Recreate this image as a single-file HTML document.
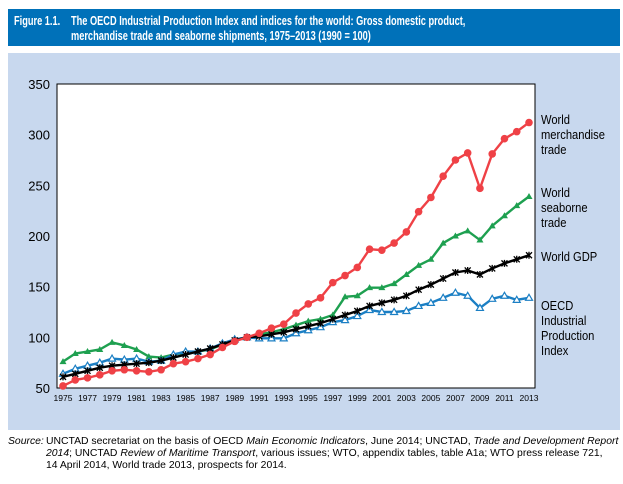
<!DOCTYPE html>
<html><head><meta charset="utf-8">
<style>
body{margin:0;width:623px;height:484px;background:#fff;font-family:"Liberation Sans",sans-serif;overflow:hidden;position:relative}
#hdr{position:absolute;left:8px;top:9px;width:612px;height:37px;background:#0071b9;color:#fff;font-weight:bold;font-size:13px;line-height:15px}
#hdr span{position:absolute;white-space:nowrap;transform-origin:0 0;transform:scaleX(0.71)}
#panel{position:absolute;left:8px;top:53px;width:612px;height:377px;background:#c8d8ee}
#src{position:absolute;left:8px;top:436px;width:612px;font-size:10.4px;line-height:12px;color:#000}
#src .l{position:absolute;left:0;top:0;font-style:italic}
#src .b{position:absolute;left:38px;top:0;width:600px;white-space:nowrap;letter-spacing:0}
</style></head><body>
<div id="hdr"><span style="left:6px;top:4px">Figure 1.1.</span><span style="left:63px;top:4px">The OECD Industrial Production Index and indices for the world: Gross domestic product,</span><span style="left:63px;top:19px">merchandise trade and seaborne shipments, 1975–2013 (1990 = 100)</span></div>
<div id="panel"></div>
<svg id="chart" width="623" height="484" style="position:absolute;left:0;top:0"></svg>
<div id="src"><span class="l">Source:</span><span class="b">UNCTAD secretariat on the basis of OECD <i>Main Economic Indicators</i>, June 2014; UNCTAD, <i>Trade and Development Report</i><br><i>2014</i>; UNCTAD <i>Review of Maritime Transport</i>, various issues; WTO, appendix tables, table A1a; WTO press release 721,<br>14 April 2014, World trade 2013, prospects for 2014.</span></div>
<script>
const years=[];for(let y=1975;y<=2013;y++)years.push(y);
const merchandise=[52,58,60,63,67,68,67,66,68,74,76,79,83,90,96,100,104,109,113,124,133,139,154,161,169,187,186,193,204,224,238,259,275,282,247,281,296,303,312];
const seaborne=[76,84,86,88,95,92,88,81,80,83,85,86,88,93,97,100,103,105,108,112,116,118,122,140,141,149,149,153,162,171,177,193,200,205,196,210,220,230,239];
const gdp=[61,64,67,70,72,73,74,75,77,80,83,86,89,93,97,100,101,103,105,108,111,114,118,122,126,131,134,137,141,147,152,158,164,166,162,168,173,177,181];
const oecd=[64,69,72,75,79,78,79,76,77,83,86,86,89,94,98,100,99,99,99,104,107,110,115,117,121,127,125,125,126,131,134,139,144,141,129,138,141,137,139];
const yTicks=[50,100,150,200,250,300,350];
const xTickYears=years.filter(y=>y%2===1);
const L=57,R=535,T=84,B=388;
const xs=y=>63+(y-1975)*(529-63)/38;
const ys=v=>B-(v-50)*(B-T)/300;
const svg=document.getElementById('chart');
const NS='http://www.w3.org/2000/svg';
function mk(tag,attrs,parent){const e=document.createElementNS(NS,tag);for(const k in attrs)e.setAttribute(k,attrs[k]);(parent||svg).appendChild(e);return e;}
const plot=mk('rect',{x:L,y:T,width:R-L,height:B-T,fill:'#fff',stroke:'#000','stroke-width':1});


yTicks.forEach(v=>{
 const t=mk('text',{x:50,y:ys(v)+5,'text-anchor':'end','font-size':13,'font-family':'Liberation Sans, sans-serif'});
 t.textContent=v;
 
 
});
xTickYears.forEach(y=>{
 const t=mk('text',{x:xs(y),y:401,'text-anchor':'middle','font-size':8.5,'font-family':'Liberation Sans, sans-serif'});
 t.textContent=y;
 
 
});
function series(data,color,name,marker){
 const g=mk('g',{});
 
 
 mk('polyline',{points:data.map((v,i)=>xs(years[i])+','+ys(v)).join(' '),fill:'none',stroke:color,'stroke-width':2.4},g);
 data.forEach((v,i)=>{
  const x=xs(years[i]),y=ys(v);let m;
  if(marker==='circle')m=mk('circle',{cx:x,cy:y,r:3.8,fill:color},g);
  else if(marker==='tri')m=mk('polygon',{points:`${x},${y-3.5} ${x-3.5},${y+2.5} ${x+3.5},${y+2.5}`,fill:color},g);
  else if(marker==='otri')m=mk('polygon',{points:`${x},${y-3.5} ${x-3.5},${y+2.5} ${x+3.5},${y+2.5}`,fill:'#fff',stroke:color,'stroke-width':1.2},g);
  else m=mk('path',{d:`M${x-3},${y-3}L${x+3},${y+3}M${x-3},${y+3}L${x+3},${y-3}M${x},${y-3.5}L${x},${y+3.5}`,stroke:color,'stroke-width':1.3},g);
  
  
 });
}
series(seaborne,'#1ea050','seaborne-trade','tri');
series(oecd,'#1b7fc4','oecd-industrial','otri');
series(gdp,'#000','world-gdp','x');
series(merchandise,'#ef4146','merchandise-trade','circle');
const labels=[[['World','merchandise','trade'],124,'label-merchandise'],[['World','seaborne','trade'],197,'label-seaborne'],[['World GDP'],261,'label-gdp'],[['OECD','Industrial','Production','Index'],310,'label-oecd']];
labels.forEach(([lines,y0,nm])=>{
 const t=mk('text',{x:0,y:y0,'font-size':13,'font-family':'Liberation Sans, sans-serif',transform:'translate(541,0) scale(0.86,1)'});
 
 
 lines.forEach((s,i)=>{const ts=mk('tspan',{x:0,dy:i?15:0},t);ts.textContent=s;});
});
</script>
</body></html>
